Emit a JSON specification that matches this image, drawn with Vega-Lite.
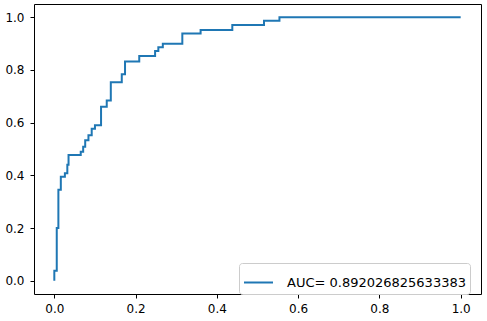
{
  "$schema": "https://vega.github.io/schema/vega-lite/v6.json",
  "width": 447,
  "height": 290,
  "autosize": {"type": "none"},
  "padding": {"left": 34, "top": 4, "right": 6, "bottom": 27},
  "background": "white",
  "config": {
    "view": {"stroke": "#000000", "strokeWidth": 1},
    "axis": {
      "grid": false,
      "domain": false,
      "tickColor": "#000000",
      "tickSize": 4,
      "tickWidth": 1,
      "labelColor": "#000000",
      "labelFont": "DejaVu Sans",
      "labelFontSize": 12,
      "title": null
    },
    "legend": {
      "labelFont": "DejaVu Sans",
      "labelFontSize": 13,
      "labelColor": "#000000",
      "labelLimit": 0
    }
  },
  "data": {
    "values": [
      {"s": "AUC= 0.892026825633383", "fpr": 0.0, "tpr": 0.0},
      {"s": "AUC= 0.892026825633383", "fpr": 0.0, "tpr": 0.038},
      {"s": "AUC= 0.892026825633383", "fpr": 0.006, "tpr": 0.038},
      {"s": "AUC= 0.892026825633383", "fpr": 0.006, "tpr": 0.2},
      {"s": "AUC= 0.892026825633383", "fpr": 0.01, "tpr": 0.2},
      {"s": "AUC= 0.892026825633383", "fpr": 0.01, "tpr": 0.345},
      {"s": "AUC= 0.892026825633383", "fpr": 0.016, "tpr": 0.345},
      {"s": "AUC= 0.892026825633383", "fpr": 0.016, "tpr": 0.395},
      {"s": "AUC= 0.892026825633383", "fpr": 0.026, "tpr": 0.395},
      {"s": "AUC= 0.892026825633383", "fpr": 0.026, "tpr": 0.408},
      {"s": "AUC= 0.892026825633383", "fpr": 0.032, "tpr": 0.408},
      {"s": "AUC= 0.892026825633383", "fpr": 0.032, "tpr": 0.44},
      {"s": "AUC= 0.892026825633383", "fpr": 0.035, "tpr": 0.44},
      {"s": "AUC= 0.892026825633383", "fpr": 0.035, "tpr": 0.477},
      {"s": "AUC= 0.892026825633383", "fpr": 0.065, "tpr": 0.477},
      {"s": "AUC= 0.892026825633383", "fpr": 0.065, "tpr": 0.49},
      {"s": "AUC= 0.892026825633383", "fpr": 0.071, "tpr": 0.49},
      {"s": "AUC= 0.892026825633383", "fpr": 0.071, "tpr": 0.509},
      {"s": "AUC= 0.892026825633383", "fpr": 0.076, "tpr": 0.509},
      {"s": "AUC= 0.892026825633383", "fpr": 0.076, "tpr": 0.533},
      {"s": "AUC= 0.892026825633383", "fpr": 0.084, "tpr": 0.533},
      {"s": "AUC= 0.892026825633383", "fpr": 0.084, "tpr": 0.552},
      {"s": "AUC= 0.892026825633383", "fpr": 0.092, "tpr": 0.552},
      {"s": "AUC= 0.892026825633383", "fpr": 0.092, "tpr": 0.577},
      {"s": "AUC= 0.892026825633383", "fpr": 0.1, "tpr": 0.577},
      {"s": "AUC= 0.892026825633383", "fpr": 0.1, "tpr": 0.59},
      {"s": "AUC= 0.892026825633383", "fpr": 0.115, "tpr": 0.59},
      {"s": "AUC= 0.892026825633383", "fpr": 0.115, "tpr": 0.66},
      {"s": "AUC= 0.892026825633383", "fpr": 0.129, "tpr": 0.66},
      {"s": "AUC= 0.892026825633383", "fpr": 0.129, "tpr": 0.684},
      {"s": "AUC= 0.892026825633383", "fpr": 0.139, "tpr": 0.684},
      {"s": "AUC= 0.892026825633383", "fpr": 0.139, "tpr": 0.753},
      {"s": "AUC= 0.892026825633383", "fpr": 0.166, "tpr": 0.753},
      {"s": "AUC= 0.892026825633383", "fpr": 0.166, "tpr": 0.784},
      {"s": "AUC= 0.892026825633383", "fpr": 0.174, "tpr": 0.784},
      {"s": "AUC= 0.892026825633383", "fpr": 0.174, "tpr": 0.832},
      {"s": "AUC= 0.892026825633383", "fpr": 0.209, "tpr": 0.832},
      {"s": "AUC= 0.892026825633383", "fpr": 0.209, "tpr": 0.853},
      {"s": "AUC= 0.892026825633383", "fpr": 0.248, "tpr": 0.853},
      {"s": "AUC= 0.892026825633383", "fpr": 0.248, "tpr": 0.872},
      {"s": "AUC= 0.892026825633383", "fpr": 0.256, "tpr": 0.872},
      {"s": "AUC= 0.892026825633383", "fpr": 0.256, "tpr": 0.886},
      {"s": "AUC= 0.892026825633383", "fpr": 0.267, "tpr": 0.886},
      {"s": "AUC= 0.892026825633383", "fpr": 0.267, "tpr": 0.899},
      {"s": "AUC= 0.892026825633383", "fpr": 0.315, "tpr": 0.899},
      {"s": "AUC= 0.892026825633383", "fpr": 0.315, "tpr": 0.938},
      {"s": "AUC= 0.892026825633383", "fpr": 0.36, "tpr": 0.938},
      {"s": "AUC= 0.892026825633383", "fpr": 0.36, "tpr": 0.951},
      {"s": "AUC= 0.892026825633383", "fpr": 0.438, "tpr": 0.951},
      {"s": "AUC= 0.892026825633383", "fpr": 0.438, "tpr": 0.97},
      {"s": "AUC= 0.892026825633383", "fpr": 0.516, "tpr": 0.97},
      {"s": "AUC= 0.892026825633383", "fpr": 0.516, "tpr": 0.986},
      {"s": "AUC= 0.892026825633383", "fpr": 0.554, "tpr": 0.986},
      {"s": "AUC= 0.892026825633383", "fpr": 0.554, "tpr": 1.0},
      {"s": "AUC= 0.892026825633383", "fpr": 1.0, "tpr": 1.0}
    ]
  },
  "mark": {"type": "line", "strokeWidth": 2, "interpolate": "linear"},
  "encoding": {
    "x": {
      "field": "fpr",
      "type": "quantitative",
      "scale": {"domain": [-0.05, 1.05], "nice": false, "zero": false},
      "axis": {"values": [0, 0.2, 0.4, 0.6, 0.8, 1.0], "format": ".1f", "labelPadding": 5}
    },
    "y": {
      "field": "tpr",
      "type": "quantitative",
      "scale": {"domain": [-0.05, 1.05], "nice": false, "zero": false},
      "axis": {"values": [0, 0.2, 0.4, 0.6, 0.8, 1.0], "format": ".1f", "labelPadding": 6}
    },
    "order": {"value": null},
    "color": {
      "field": "s",
      "type": "nominal",
      "scale": {"range": ["#1f77b4"]},
      "legend": {
        "title": null,
        "orient": "none",
        "legendX": 205,
        "legendY": 259,
        "symbolType": "stroke",
        "symbolSize": 841,
        "symbolStrokeWidth": 2,
        "labelOffset": 13,
        "padding": 4,
        "strokeColor": "#cccccc",
        "fillColor": "#ffffff",
        "cornerRadius": 3
      }
    }
  }
}
